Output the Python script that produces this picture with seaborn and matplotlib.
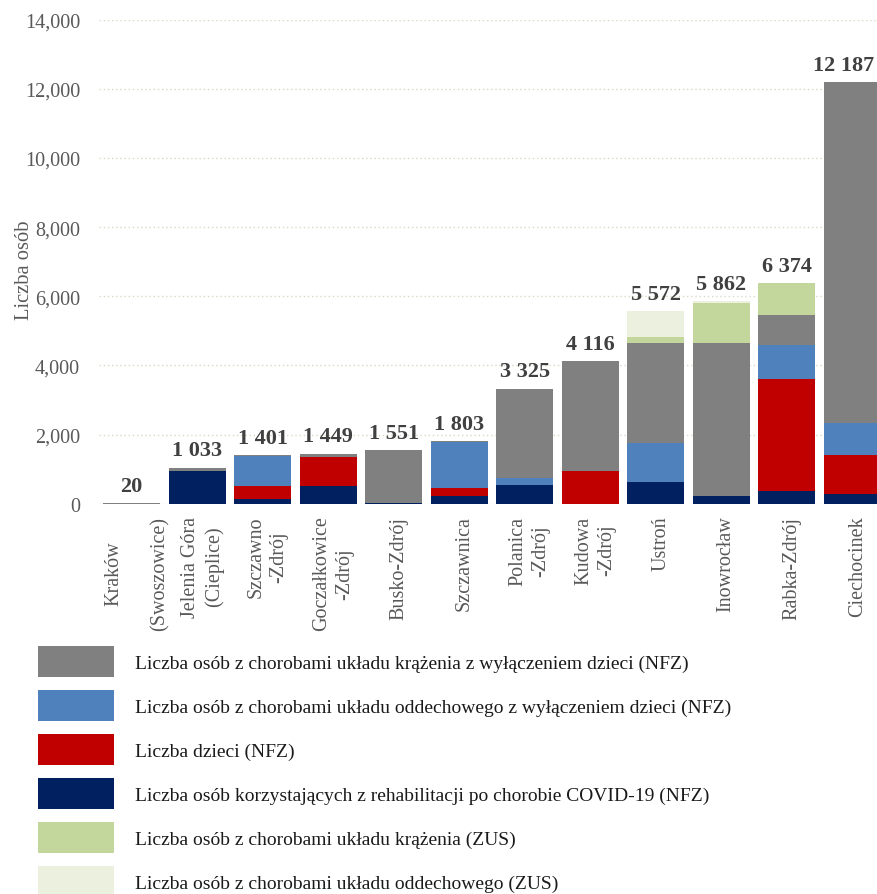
import numpy as np
import pandas as pd
import matplotlib
matplotlib.use("Agg")
import matplotlib.pyplot as plt
import matplotlib.transforms as mtransforms
import seaborn as sns

# ---------------- data ----------------
categories = ["Kraków\n\n(Swoszowice)", "Jelenia Góra\n(Cieplice)", "Szczawno\n-Zdrój",
              "Goczałkowice\n-Zdrój", "Busko-Zdrój", "Szczawnica", "Polanica\n-Zdrój",
              "Kudowa\n-Zdrój", "Ustroń", "Inowrocław", "Rabka-Zdrój", "Ciechocinek"]

covid_nfz      = [0, 945, 145, 510, 20, 221, 539, 0, 626, 221, 366, 279]
dzieci_nfz     = [0, 0, 365, 838, 0, 232, 0, 953, 0, 0, 3236, 1127]
oddech_nfz     = [0, 0, 868, 0, 0, 1329, 193, 0, 1127, 0, 982, 924]
krazenie_nfz   = [20, 88, 23, 101, 1531, 21, 2593, 3163, 2889, 4421, 867, 9857]
krazenie_zus   = [0, 0, 0, 0, 0, 0, 0, 0, 192, 1155, 923, 0]
oddech_zus     = [0, 0, 0, 0, 0, 0, 0, 0, 738, 65, 0, 0]

series_names = [
    "Liczba osób korzystających z rehabilitacji po chorobie COVID-19 (NFZ)",
    "Liczba dzieci (NFZ)",
    "Liczba osób z chorobami układu oddechowego z wyłączeniem dzieci (NFZ)",
    "Liczba osób z chorobami układu krążenia z wyłączeniem dzieci (NFZ)",
    "Liczba osób z chorobami układu krążenia (ZUS)",
    "Liczba osób z chorobami układu oddechowego (ZUS)",
]
series_values = [covid_nfz, dzieci_nfz, oddech_nfz, krazenie_nfz, krazenie_zus, oddech_zus]
series_colors = ["#002060", "#C00000", "#4F81BD", "#808080", "#C3D69B", "#EBF1DE"]
legend_order = [3, 2, 1, 0, 4, 5]

yticks = [0, 2000, 4000, 6000, 8000, 10000, 12000, 14000]

# ---------------- style ----------------
sns.set_theme(style="white")
plt.rcParams["font.family"] = ["Liberation Serif", "DejaVu Serif"]

fig = plt.figure(figsize=(8.78, 8.95), dpi=100)
ax = fig.add_axes([99 / 878, 390.3 / 895, 786 / 878, 484 / 895])

vals = np.array(series_values, dtype=float)
cum = np.cumsum(vals, axis=0)
totals = cum[-1]

containers = {}
for k in range(len(series_values) - 1, -1, -1):
    df = pd.DataFrame({"miejsce": categories, "wartosc": cum[k]})
    sns.barplot(data=df, x="miejsce", y="wartosc", order=categories, color=series_colors[k],
                saturation=1, width=0.87, errorbar=None, linewidth=0, ax=ax)
    containers[k] = ax.containers[-1]

# total labels
n = len(categories)
for i, t in enumerate(totals):
    txt = f"{int(round(t)):,}".replace(",", " ")
    if i == n - 1:
        ax.annotate(txt, (i + 0.34, t), xytext=(0, 9), textcoords="offset points",
                    ha="right", va="baseline", fontsize=16, fontweight="bold", color="#404040")
    else:
        ax.annotate(txt, (i, t), xytext=(0, 9), textcoords="offset points",
                    ha="center", va="baseline", fontsize=16, fontweight="bold", color="#404040")

ax.set_ylim(0, 14000)
ax.set_xlim(-0.5, n - 0.5)
ax.set_yticks(yticks)
ax.set_yticklabels([f"{v:,}" for v in yticks])
ax.set_axisbelow(True)
ax.yaxis.grid(True, linestyle=(0, (1, 2)), color="#DAD8C4", linewidth=1.0)
ax.xaxis.grid(False)
for s in ax.spines.values():
    s.set_visible(False)

ax.tick_params(axis="y", length=0, pad=13.5, labelsize=14.5, labelcolor="#595959")
ax.tick_params(axis="x", length=0, pad=8.5, labelsize=14.5, labelcolor="#595959", rotation=90)
shift = mtransforms.ScaledTranslation(5 / 100, 0, fig.dpi_scale_trans)
for lbl in ax.get_xticklabels():
    lbl.set_linespacing(1.28)
    lbl.set_transform(lbl.get_transform() + shift)

ax.set_xlabel("")
ax.set_ylabel("Liczba osób", fontsize=14.8, color="#595959")
ax.yaxis.label.set_va("center")
ax.yaxis.set_label_coords(-0.095, 0.485)

handles = [containers[k] for k in legend_order]
labels = [series_names[k] for k in legend_order]
fs = 14
fs_px = fs * 100 / 72
hh = (31 - 0.245 * fs_px) / (0.65 * fs_px)
fig.legend(handles, labels, loc="upper left", bbox_to_anchor=(38 / 878, 1 - 647 / 895),
           frameon=False, borderpad=0, borderaxespad=0, fontsize=fs,
           handlelength=76 / fs_px, handleheight=hh, handletextpad=21 / fs_px,
           labelspacing=(44 - 31) / fs_px, labelcolor="#1a1a1a")

fig.savefig("out.png", dpi=100)
